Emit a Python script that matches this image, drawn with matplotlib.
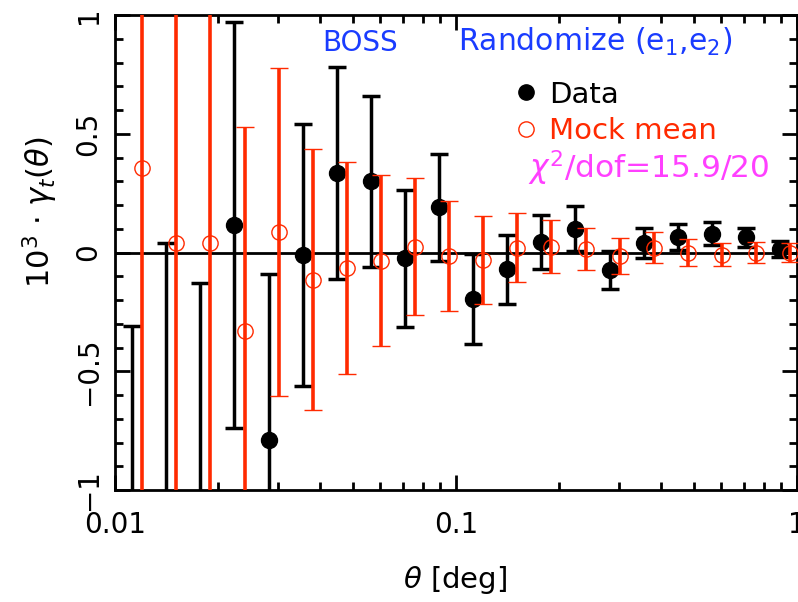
import matplotlib
matplotlib.use("Agg")
import matplotlib.pyplot as plt
from matplotlib.lines import Line2D
from matplotlib.ticker import FixedLocator, NullFormatter, LogLocator

# tangential shear, randomized ellipticities
data_theta = [0.0112, 0.0141, 0.0178, 0.0224, 0.0282, 0.0355, 0.0447, 0.0562, 0.0708, 0.0891,
              0.112, 0.141, 0.178, 0.224, 0.282, 0.355, 0.447, 0.562, 0.708, 0.891]
data_gt = [-1.35, -1.20, -1.30, 0.115, -0.79, -0.01, 0.335, 0.30, -0.025, 0.19,
           -0.195, -0.07, 0.045, 0.10, -0.075, 0.04, 0.065, 0.08, 0.065, 0.015]
data_err = [1.04, 1.24, 1.17, 0.855, 0.70, 0.55, 0.445, 0.36, 0.29, 0.225,
            0.19, 0.145, 0.115, 0.095, 0.08, 0.065, 0.055, 0.05, 0.04, 0.035]

mock_theta = [0.0120, 0.0151, 0.0190, 0.0240, 0.0302, 0.0380, 0.0478, 0.0601, 0.0758, 0.0953,
              0.120, 0.151, 0.190, 0.240, 0.302, 0.380, 0.478, 0.601, 0.758, 0.953]
mock_gt = [0.355, 0.04, 0.04, -0.33, 0.085, -0.115, -0.065, -0.035, 0.025, -0.015,
           -0.03, 0.02, 0.025, 0.015, -0.015, 0.02, 0.0, -0.01, 0.0, 0.0]
mock_err = [1.6, 1.3, 1.1, 0.86, 0.69, 0.55, 0.445, 0.36, 0.29, 0.23,
            0.185, 0.145, 0.11, 0.09, 0.075, 0.065, 0.055, 0.048, 0.043, 0.038]

xticks = [0.01, 0.1, 1]
xticklabels = ["0.01", "0.1", "1"]
yticks = [-1, -0.5, 0, 0.5, 1]
yticklabels = ["\u22121", "\u22120.5", "0", "0.5", "1"]

red = "#ff2a00"
blue = "#1a3cff"
magenta = "#ff40ff"
fs = 20

plt.rcParams["font.family"] = "DejaVu Sans"
plt.rcParams["mathtext.fontset"] = "dejavusans"

fig = plt.figure(figsize=(7.98, 6.02), dpi=100)
ax = fig.add_axes([115/798, 1-490/602, 682/798, 475/602])

ax.axhline(0, color="black", lw=2.0, zorder=1)

ax.errorbar(data_theta, data_gt, yerr=data_err, fmt="o", color="black", ms=11.5,
            elinewidth=2.5, capsize=6.5, capthick=2.5, zorder=3)
ax.errorbar(mock_theta, mock_gt, yerr=mock_err, fmt="o", color=red, mfc="none", mec=red,
            ms=11, mew=1.0, elinewidth=2.6, capsize=6.5, capthick=2.6, zorder=4)

ax.set_xscale("log")
ax.set_xlim(0.01, 1)
ax.set_ylim(-1, 1)
ax.set_xticks(xticks)
ax.set_xticklabels(xticklabels)
ax.xaxis.set_minor_locator(LogLocator(base=10, subs=range(2, 10)))
ax.xaxis.set_minor_formatter(NullFormatter())
ax.set_yticks(yticks)
ax.set_yticklabels(yticklabels)
ax.yaxis.set_minor_locator(FixedLocator([i / 10 for i in range(-10, 11)]))

for s in ax.spines.values():
    s.set_linewidth(2.0)
ax.tick_params(which="both", direction="in", top=True, right=True, width=2.0)
ax.tick_params(which="major", length=11)
ax.tick_params(which="minor", length=6)
ax.tick_params(axis="x", labelsize=fs, pad=15)
ax.tick_params(axis="y", labelsize=fs, pad=9, labelrotation=90)
for t in ax.get_yticklabels():
    t.set_va("center")

ax.set_xlabel(r"$\theta$ [deg]", fontsize=21)
ax.xaxis.set_label_coords(0.4985, -0.155)
ax.set_ylabel(r"10$^3$ $\cdot$ $\gamma_t(\theta)$", fontsize=22)
ax.yaxis.set_label_coords(-0.08, 0.585)

ax.text(0.3035, 0.925, "BOSS", color=blue, fontsize=fs, transform=ax.transAxes, va="baseline")
ax.text(0.503, 0.925, "Randomize (e$_1$,e$_2$)", color=blue, fontsize=21.5,
        transform=ax.transAxes, va="baseline")

handles = [Line2D([], [], marker="o", ls="none", color="black", ms=11),
           Line2D([], [], marker="o", ls="none", mfc="none", mec=red, mew=1.0, ms=11)]
leg = ax.legend(handles, ["Data", "Mock mean"], loc="upper left",
                bbox_to_anchor=(0.5806, 0.862), frameon=False, prop={"size": 21},
                handlelength=1.0, handletextpad=0.3, borderpad=0, borderaxespad=0,
                labelspacing=0.3)
leg.get_texts()[1].set_color(red)

ax.text(0.6056, 0.656, r"$\chi^2$/dof=15.9/20", color=magenta, fontsize=22.5,
        transform=ax.transAxes, va="baseline")

fig.savefig("out.png", dpi=100)
